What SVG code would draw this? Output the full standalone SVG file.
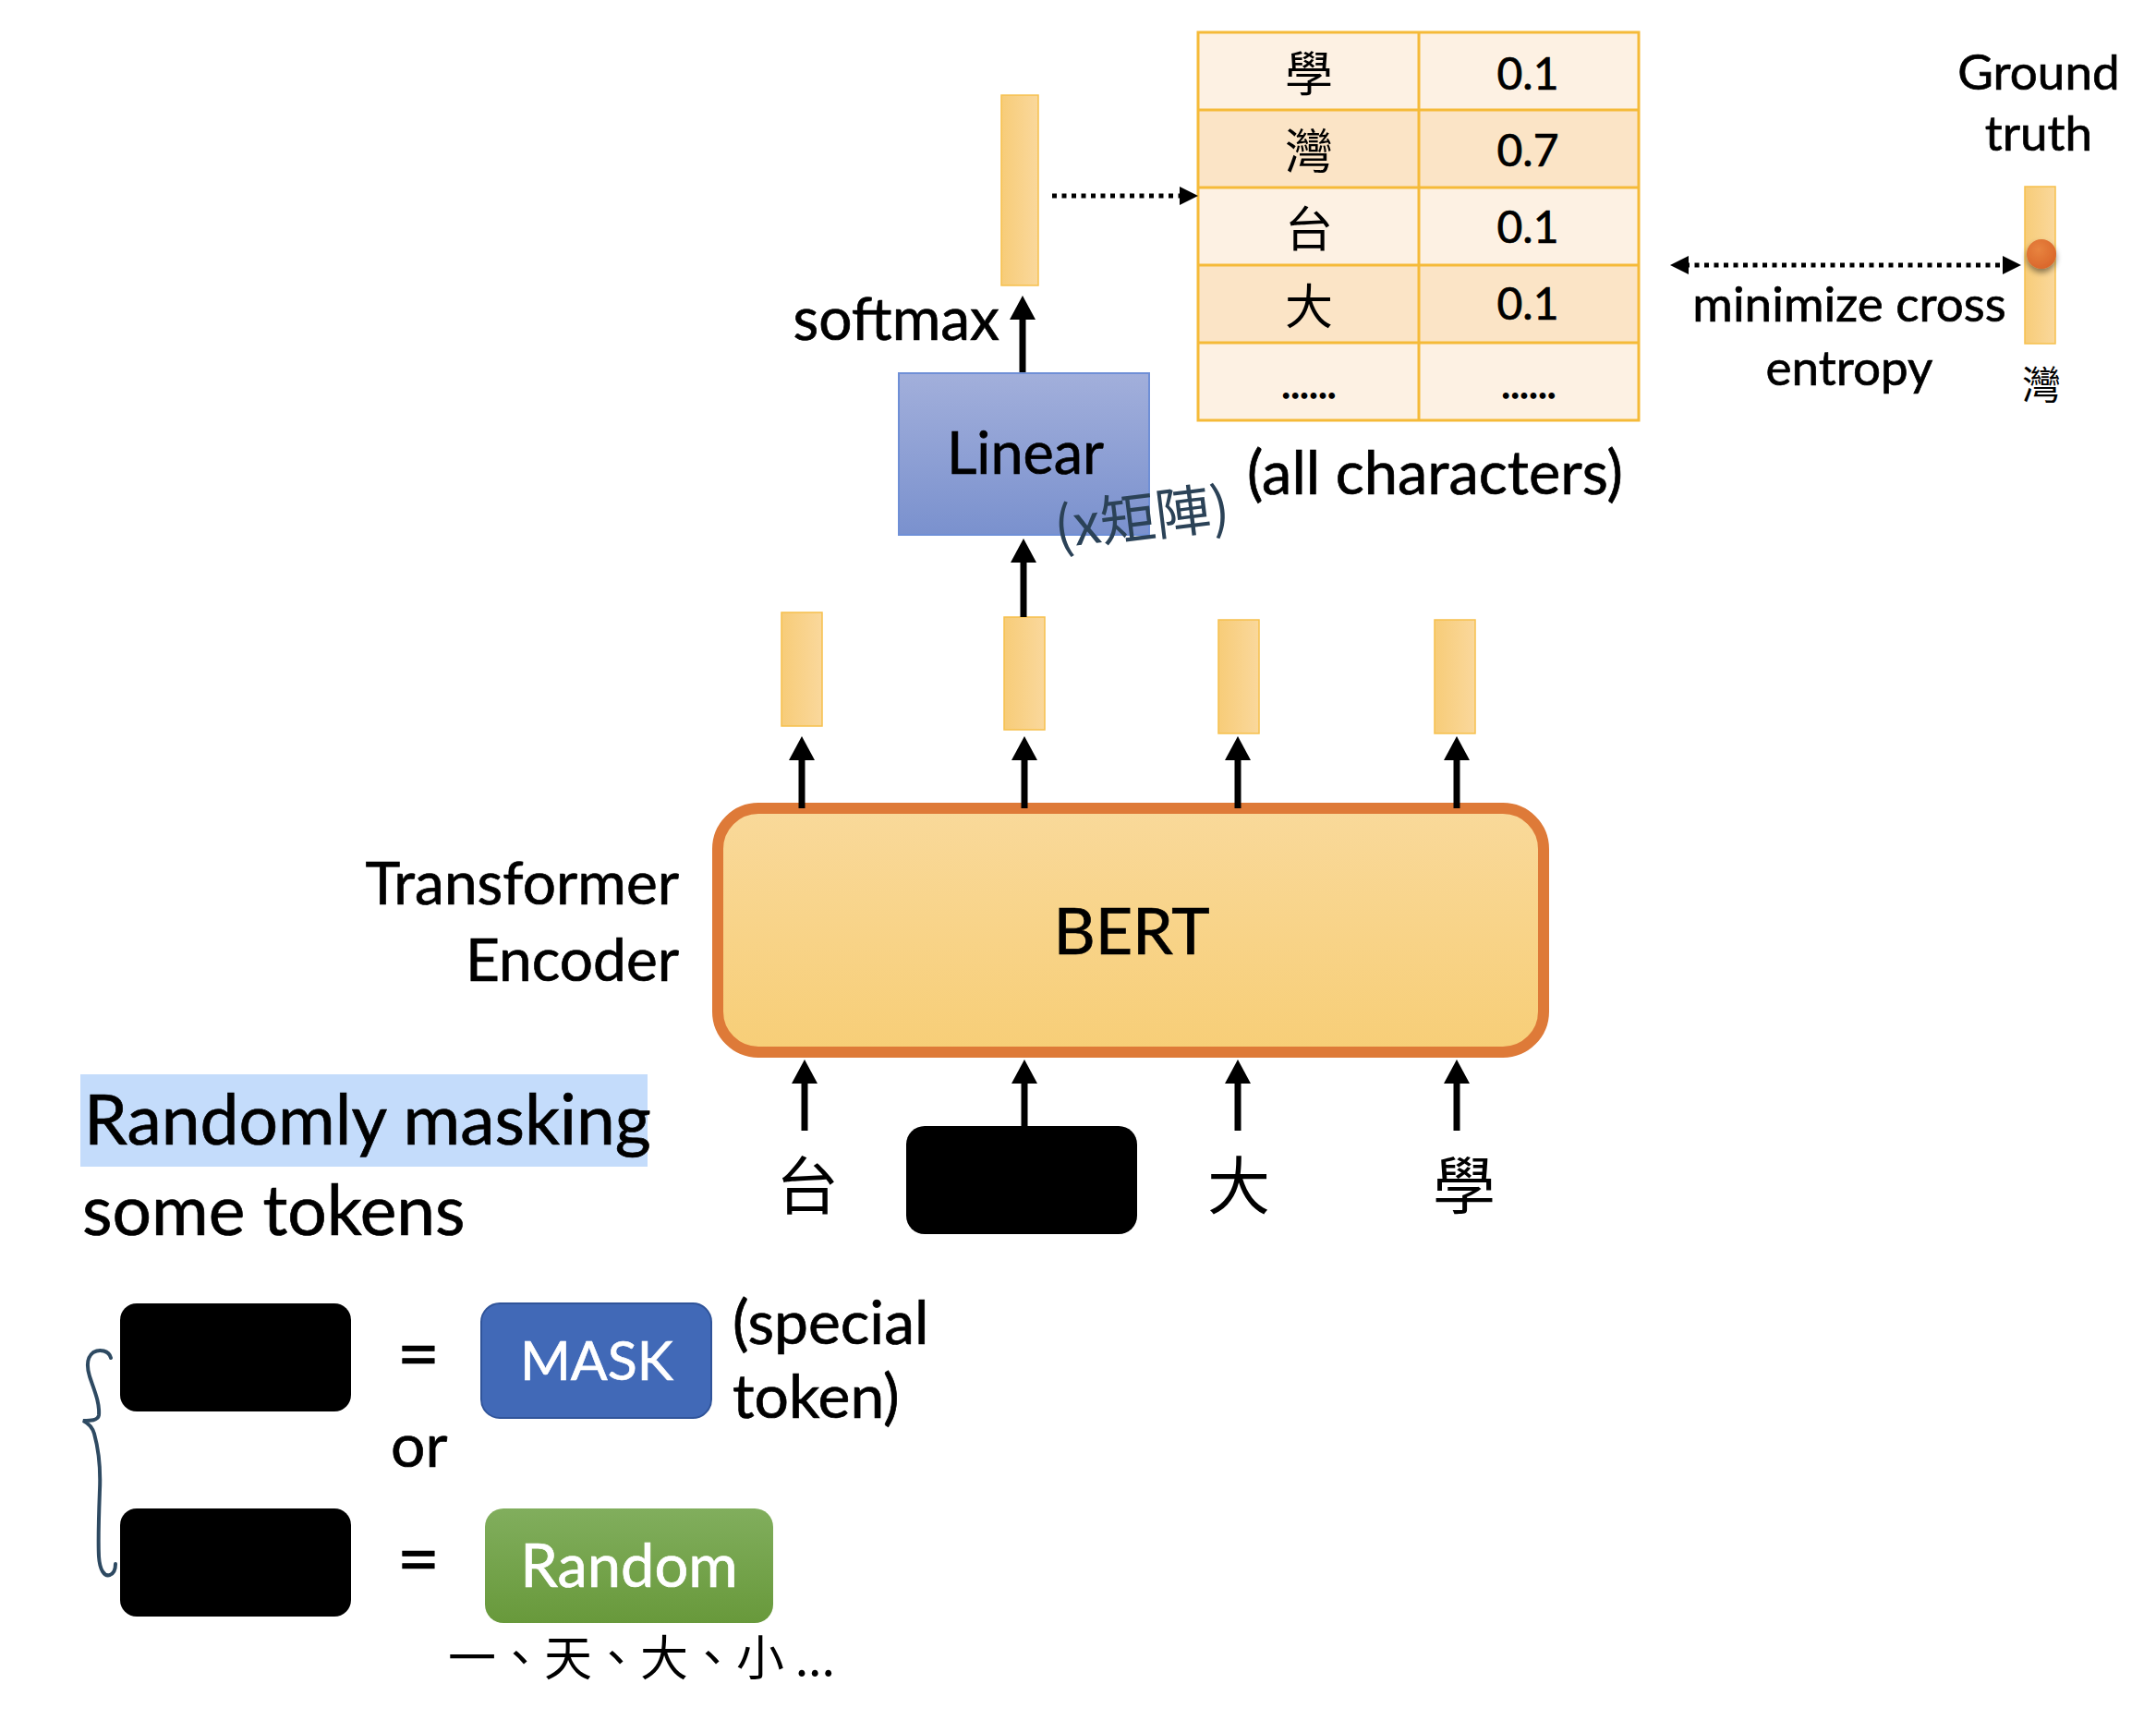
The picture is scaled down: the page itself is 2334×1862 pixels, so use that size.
<svg xmlns="http://www.w3.org/2000/svg" width="2334" height="1862" viewBox="0 0 2334 1862">
  <defs>
    <linearGradient id="vecGrad" x1="0" y1="0" x2="1" y2="0">
      <stop offset="0" stop-color="#F7CC78"/>
      <stop offset="1" stop-color="#FAD89C"/>
    </linearGradient>
    <linearGradient id="bertGrad" x1="0" y1="0" x2="0" y2="1">
      <stop offset="0" stop-color="#F9D99A"/>
      <stop offset="1" stop-color="#F7CE77"/>
    </linearGradient>
    <linearGradient id="linGrad" x1="0" y1="0" x2="0" y2="1">
      <stop offset="0" stop-color="#A2AFDB"/>
      <stop offset="1" stop-color="#7A91CE"/>
    </linearGradient>
    <linearGradient id="rndGrad" x1="0" y1="0" x2="0" y2="1">
      <stop offset="0" stop-color="#81AE5D"/>
      <stop offset="1" stop-color="#68993B"/>
    </linearGradient>
    <radialGradient id="dotGrad" cx="0.4" cy="0.35" r="0.7">
      <stop offset="0" stop-color="#E8843F"/>
      <stop offset="1" stop-color="#D9652A"/>
    </radialGradient>
    <filter id="shadow" x="-50%" y="-50%" width="200%" height="200%">
      <feGaussianBlur in="SourceAlpha" stdDeviation="3"/>
      <feOffset dx="0" dy="4" result="b"/>
      <feComponentTransfer><feFuncA type="linear" slope="0.45"/></feComponentTransfer>
      <feMerge><feMergeNode/><feMergeNode in="SourceGraphic"/></feMerge>
    </filter>
    <marker id="ah" markerUnits="userSpaceOnUse" markerWidth="28" markerHeight="28" viewBox="0 0 28 28" refX="6" refY="14" orient="auto">
      <path d="M0,0 L26,14 L0,28 z" fill="#000"/>
    </marker>
    <marker id="ahs" markerUnits="userSpaceOnUse" markerWidth="22" markerHeight="22" viewBox="0 0 22 22" refX="4" refY="11" orient="auto-start-reverse">
      <path d="M0,1 L20,11 L0,21 z" fill="#000"/>
    </marker>
  </defs>
  <style>
    .lat { font-family: Lato, "Liberation Sans", sans-serif; fill: #000; stroke: #000; stroke-width: 0.7; }
    .cjk { font-family: "Noto Sans CJK TC", "Noto Sans CJK SC", sans-serif; fill: #000; }
    .vec { fill: url(#vecGrad); stroke: #F6C04C; stroke-width: 1.5; }
    .blk { fill: #000; }
    .cell-l { fill: #FDF1E3; }
    .cell-d { fill: #FBE4C6; }
    .grid { fill: none; stroke: #F5BA38; stroke-width: 3; }
    .arrow { stroke: #000; stroke-width: 7; fill: none; marker-end: url(#ah); }
    .dotted { stroke: #000; stroke-width: 5; fill: none; stroke-dasharray: 5 5.5; }
    .white { fill: #fff; stroke: #fff; }
  </style>
  <rect width="2334" height="1862" fill="#fff"/>

  <!-- Output probability vector -->
  <g id="out-vector">
    <rect class="vec" x="1084" y="103" width="40" height="206"/>
  </g>

  <!-- Probability table -->
  <g id="prob-table">
    <rect class="cell-l" x="1297" y="35" width="477" height="84"/>
    <rect class="cell-d" x="1297" y="119" width="477" height="84"/>
    <rect class="cell-l" x="1297" y="203" width="477" height="84"/>
    <rect class="cell-d" x="1297" y="287" width="477" height="84"/>
    <rect class="cell-l" x="1297" y="371" width="477" height="84"/>
    <rect class="grid" x="1297" y="35" width="477" height="420"/>
    <path class="grid" d="M1297,119 H1774 M1297,203 H1774 M1297,287 H1774 M1297,371 H1774 M1536,35 V455"/>
    <g class="cjk" font-size="52" text-anchor="middle">
      <text x="1417" y="99">學</text>
      <text x="1417" y="183">灣</text>
      <text x="1417" y="267">台</text>
      <text x="1417" y="351">大</text>
    </g>
    <g class="lat" font-size="48" text-anchor="middle">
      <text x="1654" y="97">0.1</text>
      <text x="1654" y="180">0.7</text>
      <text x="1654" y="263">0.1</text>
      <text x="1654" y="346">0.1</text>
    </g>
    <g class="lat" font-size="42" text-anchor="middle" style="stroke-width:1.5">
      <text x="1417" y="431">......</text>
      <text x="1655" y="431">......</text>
    </g>
  </g>
  <text class="lat" x="1350" y="535" font-size="65">(all characters)</text>

  <!-- Ground truth -->
  <g id="ground-truth">
    <text class="lat" x="2207" y="97" font-size="53" text-anchor="middle">Ground</text>
    <text class="lat" x="2207" y="163" font-size="53" text-anchor="middle">truth</text>
    <rect class="vec" x="2192" y="202" width="33" height="170"/>
    <circle cx="2210" cy="275" r="16" fill="url(#dotGrad)" filter="url(#shadow)"/>
    <text class="cjk" x="2210" y="432" font-size="42" text-anchor="middle">灣</text>
  </g>
  <g id="loss-label" class="lat" font-size="53" text-anchor="middle">
    <text x="2002" y="348">minimize cross</text>
    <text x="2002" y="417">entropy</text>
  </g>

  <!-- Linear -->
  <g id="linear">
    <rect x="973" y="404" width="271" height="175" fill="url(#linGrad)" stroke="#6F8FD6" stroke-width="2"/>
    <text class="lat" x="1110" y="513" font-size="63" text-anchor="middle">Linear</text>
  </g>
  <text class="lat" x="1082" y="368" font-size="64" text-anchor="end">softmax</text>
  <text class="cjk" x="1144" y="593" font-size="60" style="fill:#2B4257" transform="rotate(-7 1144 593)">(x矩陣)</text>

  <!-- BERT output vectors -->
  <g id="h1"><rect class="vec" x="846" y="663" width="44" height="123"/></g>
  <g id="h2"><rect class="vec" x="1087" y="668" width="44" height="122"/></g>
  <g id="h3"><rect class="vec" x="1319" y="671" width="44" height="123"/></g>
  <g id="h4"><rect class="vec" x="1553" y="671" width="44" height="123"/></g>

  <!-- BERT -->
  <g id="bert">
    <rect x="777" y="875" width="894" height="264" rx="44" ry="44" fill="url(#bertGrad)" stroke="#DE7A38" stroke-width="12"/>
    <text class="lat" x="1225" y="1033" font-size="70" text-anchor="middle">BERT</text>
  </g>
  <g id="bert-label" class="lat" font-size="64" text-anchor="end">
    <text x="735" y="979">Transformer</text>
    <text x="735" y="1062">Encoder</text>
  </g>

  <!-- Inputs -->
  <g id="inputs">
    <text class="cjk" x="874" y="1309" font-size="68" text-anchor="middle">台</text>
    <rect class="blk" x="981" y="1219" width="250" height="117" rx="20" ry="20"/>
    <text class="cjk" x="1341" y="1309" font-size="68" text-anchor="middle">大</text>
    <text class="cjk" x="1585" y="1309" font-size="68" text-anchor="middle">學</text>
  </g>

  <!-- Connectors -->
  <g id="connectors">
    <line class="arrow" x1="1107" y1="403" x2="1107" y2="340"/>
    <line class="arrow" x1="1108" y1="668" x2="1108" y2="603"/>
    <line class="arrow" x1="868" y1="875" x2="868" y2="817"/>
    <line class="arrow" x1="1109" y1="875" x2="1109" y2="817"/>
    <line class="arrow" x1="1340" y1="875" x2="1340" y2="817"/>
    <line class="arrow" x1="1577" y1="875" x2="1577" y2="817"/>
    <line class="arrow" x1="871" y1="1224" x2="871" y2="1167"/>
    <line class="arrow" x1="1109" y1="1219" x2="1109" y2="1167"/>
    <line class="arrow" x1="1340" y1="1224" x2="1340" y2="1167"/>
    <line class="arrow" x1="1577" y1="1224" x2="1577" y2="1167"/>
    <line class="dotted" x1="1139" y1="212" x2="1281" y2="212" marker-end="url(#ahs)"/>
    <line class="dotted" x1="1824" y1="287" x2="2172" y2="287" marker-start="url(#ahs)" marker-end="url(#ahs)"/>
  </g>

  <!-- Masking explanation -->
  <g id="masking-title">
    <rect x="87" y="1163" width="614" height="100" fill="#C4DCFB"/>
    <text class="lat" x="91" y="1239" font-size="75">Randomly masking</text>
    <text class="lat" x="89" y="1337" font-size="75">some tokens</text>
  </g>
  <g id="mask-option">
    <rect class="blk" x="130" y="1411" width="250" height="117" rx="18" ry="18"/>
    <text class="lat" x="453" y="1494" font-size="80" text-anchor="middle">=</text>
    <rect x="521" y="1411" width="249" height="124" rx="20" ry="20" fill="#4169B7" stroke="#30549A" stroke-width="2"/>
    <text class="lat white" x="646" y="1494" font-size="59" text-anchor="middle">MASK</text>
    <text class="lat" x="793" y="1455" font-size="66">(special</text>
    <text class="lat" x="793" y="1535" font-size="66">token)</text>
  </g>
  <text class="lat" x="423" y="1588" font-size="66">or</text>
  <g id="random-option">
    <rect class="blk" x="130" y="1633" width="250" height="117" rx="18" ry="18"/>
    <text class="lat" x="453" y="1716" font-size="80" text-anchor="middle">=</text>
    <rect x="525" y="1633" width="312" height="124" rx="20" ry="20" fill="url(#rndGrad)"/>
    <text class="lat white" x="681" y="1718" font-size="65" text-anchor="middle">Random</text>
    <text class="cjk" x="485" y="1814" font-size="52">一、天、大、小 ...</text>
  </g>
  <path id="brace" d="M120,1470 C118,1462 108,1460 101,1464 C93,1470 94,1480 97,1490 C102,1505 108,1518 107,1532 C106,1538 98,1538 90,1538 C96,1541 100,1545 102,1552 C107,1570 109,1590 108,1613 C107,1640 106,1665 107,1685 C108,1700 113,1707 119,1705 C124,1703 125,1698 125,1693" fill="none" stroke="#2E4A62" stroke-width="4" stroke-linecap="round"/>
</svg>
